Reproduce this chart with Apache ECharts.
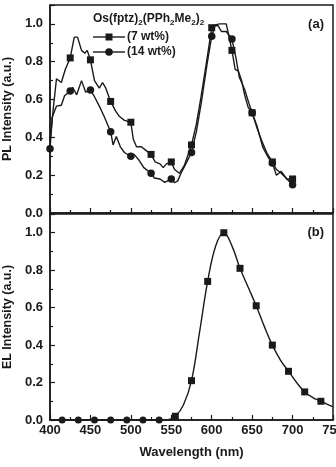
<!DOCTYPE html>
<html>
<head>
<meta charset="utf-8">
<script src="https://cdn.jsdelivr.net/npm/echarts@6/dist/echarts.min.js"></script>
<style>
html, body { margin: 0; padding: 0; background: #fff; }
#chart { width: 336px; height: 467px; }
</style>
</head>
<body>
<div id="chart"></div>
<script>
// PL spectra, [wavelength nm, intensity]
var plSeven = [
  [400, 0.38], [404, 0.55], [408, 0.71], [414, 0.69], [419, 0.76], [425, 0.82],
  [430, 0.93], [434, 0.93], [439, 0.86], [443, 0.845], [446, 0.86], [450, 0.81],
  [455, 0.70], [461, 0.66], [465, 0.69], [469, 0.66], [475, 0.59], [481, 0.54],
  [486, 0.51], [492, 0.49], [500, 0.48], [503, 0.39], [507, 0.35], [513, 0.35],
  [519, 0.33], [525, 0.31], [530, 0.27], [536, 0.26], [540, 0.24], [544, 0.26],
  [550, 0.27], [554, 0.23], [560, 0.21], [566, 0.25], [575, 0.36], [581, 0.47],
  [587, 0.62], [594, 0.81], [600, 0.98], [604, 0.995], [610, 1.0], [618, 1.0],
  [625, 0.86], [629, 0.76], [633, 0.75], [637, 0.70], [641, 0.62], [645, 0.56],
  [650, 0.53], [656, 0.45], [662, 0.38], [668, 0.32], [675, 0.27], [680, 0.23],
  [686, 0.21], [693, 0.18], [700, 0.18]
];
var plFourteen = [
  [400, 0.34], [403, 0.51], [408, 0.565], [414, 0.57], [418, 0.62], [425, 0.645],
  [428, 0.665], [433, 0.625], [439, 0.70], [444, 0.64], [450, 0.65], [455, 0.615],
  [461, 0.565], [467, 0.51], [475, 0.43], [478, 0.36], [482, 0.405], [487, 0.35],
  [492, 0.32], [500, 0.30], [504, 0.31], [510, 0.28], [516, 0.24], [525, 0.21],
  [529, 0.185], [536, 0.18], [542, 0.162], [550, 0.18], [554, 0.16], [558, 0.17],
  [562, 0.21], [568, 0.26], [575, 0.32], [581, 0.43], [587, 0.58], [594, 0.78],
  [600, 0.935], [604, 0.99], [608, 0.99], [612, 0.96], [618, 0.96], [625, 0.92],
  [630, 0.82], [634, 0.72], [641, 0.65], [646, 0.58], [650, 0.53], [656, 0.46],
  [663, 0.35], [669, 0.30], [675, 0.265], [680, 0.20], [686, 0.22], [693, 0.18],
  [700, 0.15]
];
// EL spectrum
var elData = [
  [400, 0], [415, 0], [435, 0], [455, 0], [475, 0], [495, 0], [515, 0], [535, 0],
  [545, 0], [555, 0.02], [565, 0.08], [575, 0.21], [585, 0.47], [595, 0.74],
  [605, 0.93], [615, 1.0], [625, 0.93], [635, 0.81], [645, 0.71], [655, 0.61],
  [665, 0.50], [675, 0.40], [685, 0.32], [695, 0.26], [705, 0.20], [715, 0.15],
  [725, 0.12], [735, 0.10], [745, 0.08], [750, 0.07]
];

var ink = '#1a1a1a';
var font = '"Liberation Sans", Arial, sans-serif';

function xAxisCfg(grid, labels) {
  return {
    gridIndex: grid, type: 'value', min: 400, max: 750, interval: 50,
    name: labels ? 'Wavelength (nm)' : '',
    nameLocation: 'middle', nameGap: 26,
    nameTextStyle: { fontFamily: font, fontWeight: 'bold', fontSize: 13, color: ink },
    axisLine: { lineStyle: { color: ink, width: 1.5 } },
    axisTick: { inside: true, length: 5, lineStyle: { color: ink, width: 1.2 } },
    minorTick: { show: true, splitNumber: 2, length: 3, lineStyle: { color: ink, width: 1.2 } },
    axisLabel: { show: labels, margin: 4, fontFamily: font, fontWeight: 'bold', fontSize: 13, color: ink },
    splitLine: { show: false }
  };
}
function yAxisCfg(grid, title) {
  return {
    gridIndex: grid, type: 'value', min: 0, max: 1.1, interval: 0.2,
    name: title, nameLocation: 'middle', nameGap: 31,
    nameTextStyle: { fontFamily: font, fontWeight: 'bold', fontSize: 12.5, color: ink },
    axisLine: { lineStyle: { color: ink, width: 1.5 } },
    axisTick: { inside: true, length: 5, lineStyle: { color: ink, width: 1.2 } },
    minorTick: { show: true, splitNumber: 2, length: 3, lineStyle: { color: ink, width: 1.2 } },
    axisLabel: {
      margin: 7, showMaxLabel: false, fontFamily: font, fontWeight: 'bold', fontSize: 13, color: ink,
      formatter: function (v) { return v.toFixed(1); }
    },
    splitLine: { show: false }
  };
}

function plSymbol(shape, first) {
  return function (v) {
    return (v[0] % 25 === 0 && v[0] >= first) ? shape : 'none';
  };
}
function elSymbol(v) {
  if ((v[0] - 415) % 20 !== 0 || v[0] < 415) return 'none';
  return v[0] < 550 ? 'circle' : 'rect';
}

var myChart = echarts.init(document.getElementById('chart'));
var option = {
  animation: false,
  grid: [
    { left: 50, right: 3, top: 5, height: 208, outerBoundsMode: 'none', show: true, borderColor: ink, borderWidth: 1.5 },
    { left: 50, right: 3, top: 214, height: 206, outerBoundsMode: 'none', show: true, borderColor: ink, borderWidth: 1.5 }
  ],
  xAxis: [xAxisCfg(0, false), xAxisCfg(1, true)],
  yAxis: [yAxisCfg(0, 'PL Intensity (a.u.)'), yAxisCfg(1, 'EL Intensity (a.u.)')],
  series: [
    {
      name: '(7 wt%)', type: 'line', xAxisIndex: 0, yAxisIndex: 0, data: plSeven,
      symbol: plSymbol('rect', 425), symbolSize: 7,
      lineStyle: { color: ink, width: 1.4 }, itemStyle: { color: ink }
    },
    {
      name: '(14 wt%)', type: 'line', xAxisIndex: 0, yAxisIndex: 0, data: plFourteen,
      symbol: plSymbol('circle', 400), symbolSize: 7.5,
      lineStyle: { color: ink, width: 1.4 }, itemStyle: { color: ink }
    },
    {
      name: 'EL', type: 'line', xAxisIndex: 1, yAxisIndex: 1, data: elData, smooth: 0.4,
      symbol: elSymbol, symbolSize: 7,
      lineStyle: { color: ink, width: 1.4 }, itemStyle: { color: ink }
    }
  ],
  graphic: [
    {
      type: 'text', left: 93, top: 13,
      style: {
        text: 'Os(fptz){s|2}(PPh{s|2}Me{s|2}){s|2}',
        font: 'bold 12px ' + font, fill: ink,
        rich: { s: { fontSize: 8, fontWeight: 'bold', fontFamily: font, fill: ink, padding: [7, 0, 0, 0] } }
      }
    },
    { type: 'line', shape: { x1: 93, y1: 37, x2: 125, y2: 37 }, style: { stroke: ink, lineWidth: 1.4 } },
    { type: 'rect', shape: { x: 105.5, y: 33.5, width: 7, height: 7 }, style: { fill: ink } },
    { type: 'text', left: 127, top: 31, style: { text: '(7 wt%)', font: 'bold 12px ' + font, fill: ink } },
    { type: 'line', shape: { x1: 93, y1: 52, x2: 125, y2: 52 }, style: { stroke: ink, lineWidth: 1.4 } },
    { type: 'circle', shape: { cx: 109, cy: 52, r: 3.8 }, style: { fill: ink } },
    { type: 'text', left: 127, top: 46, style: { text: '(14 wt%)', font: 'bold 12px ' + font, fill: ink } },
    { type: 'text', right: 12, top: 18, style: { text: '(a)', font: 'bold 13px ' + font, fill: ink } },
    { type: 'text', right: 12, top: 226, style: { text: '(b)', font: 'bold 13px ' + font, fill: ink } }
  ]
};
myChart.setOption(option);
</script>
</body>
</html>
